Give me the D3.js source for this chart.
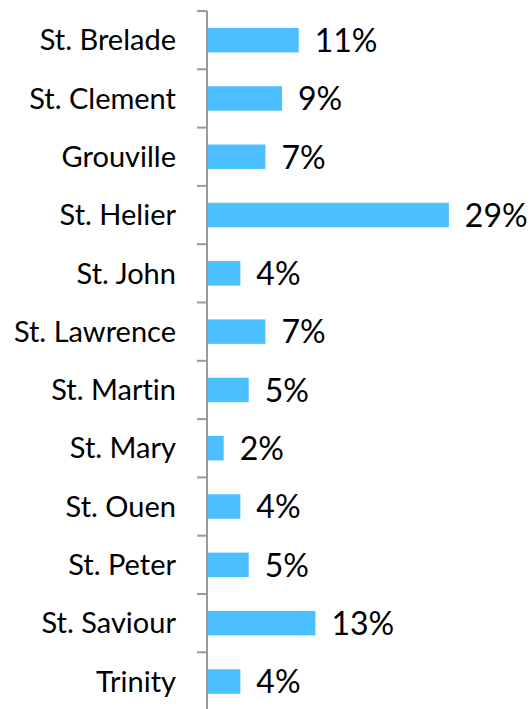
<!DOCTYPE html>
<html>
<head>
<meta charset="utf-8">
<script src="https://cdn.jsdelivr.net/npm/d3@7"></script>
<style>
  html, body { margin: 0; padding: 0; background: #fff; }
  svg { display: block; }
  text { font-variant-ligatures: none; }
</style>
</head>
<body>
<svg id="chart" width="531" height="709"></svg>
<script>
// Share of respondents by parish
const parishes = ["St. Brelade", "St. Clement", "Grouville", "St. Helier", "St. John",
  "St. Lawrence", "St. Martin", "St. Mary", "St. Ouen", "St. Peter", "St. Saviour", "Trinity"];
const shares = [11, 9, 7, 29, 4, 7, 5, 2, 4, 5, 13, 4];

const svg = d3.select("#chart");
const font = "Lato, 'Open Sans', sans-serif";

const axisX = 207;
const plotTop = 11, bandStep = 58.3;

const y = d3.scaleBand()
  .domain(parishes)
  .range([plotTop, plotTop + bandStep * parishes.length])
  .paddingInner(0.58)
  .paddingOuter(0.29);

const x = d3.scaleLinear()
  .domain([0, 30])
  .range([axisX, axisX + 30 * 8.34]);

// Bars
svg.append("g")
  .selectAll("rect")
  .data(parishes)
  .join("rect")
  .attr("x", x(0) + 1)
  .attr("y", d => y(d))
  .attr("width", (d, i) => x(shares[i]) - x(0) - 1)
  .attr("height", y.bandwidth())
  .attr("fill", "#4BBFFF");

// Value labels
svg.append("g")
  .selectAll("text")
  .data(parishes)
  .join("text")
  .attr("x", (d, i) => x(shares[i]) + 16)
  .attr("y", d => y(d) + y.bandwidth() / 2)
  .attr("dy", "0.37em")
  .attr("font-family", font)
  .attr("font-size", 32)
  .attr("fill", "#000")
  .text((d, i) => shares[i] + "%");

// Category axis: vertical line with ticks on band boundaries
const axis = svg.append("g");
axis.append("line")
  .attr("x1", axisX).attr("x2", axisX)
  .attr("y1", plotTop).attr("y2", 709)
  .attr("stroke", "#9a9a9a").attr("stroke-width", 2);

const boundaries = d3.range(parishes.length + 1).map(i => plotTop + i * y.step());
axis.selectAll("line.tick")
  .data(boundaries)
  .join("line")
  .attr("class", "tick")
  .attr("x1", axisX - 10).attr("x2", axisX)
  .attr("y1", d => d).attr("y2", d => d)
  .attr("stroke", "#9a9a9a").attr("stroke-width", 2);

axis.selectAll("text")
  .data(parishes)
  .join("text")
  .attr("x", axisX - 31)
  .attr("y", d => y(d) + y.bandwidth() / 2)
  .attr("dy", "0.35em")
  .attr("text-anchor", "end")
  .attr("font-family", font)
  .attr("font-size", 29)
  .attr("fill", "#000")
  .text(d => d);
</script>
</body>
</html>
